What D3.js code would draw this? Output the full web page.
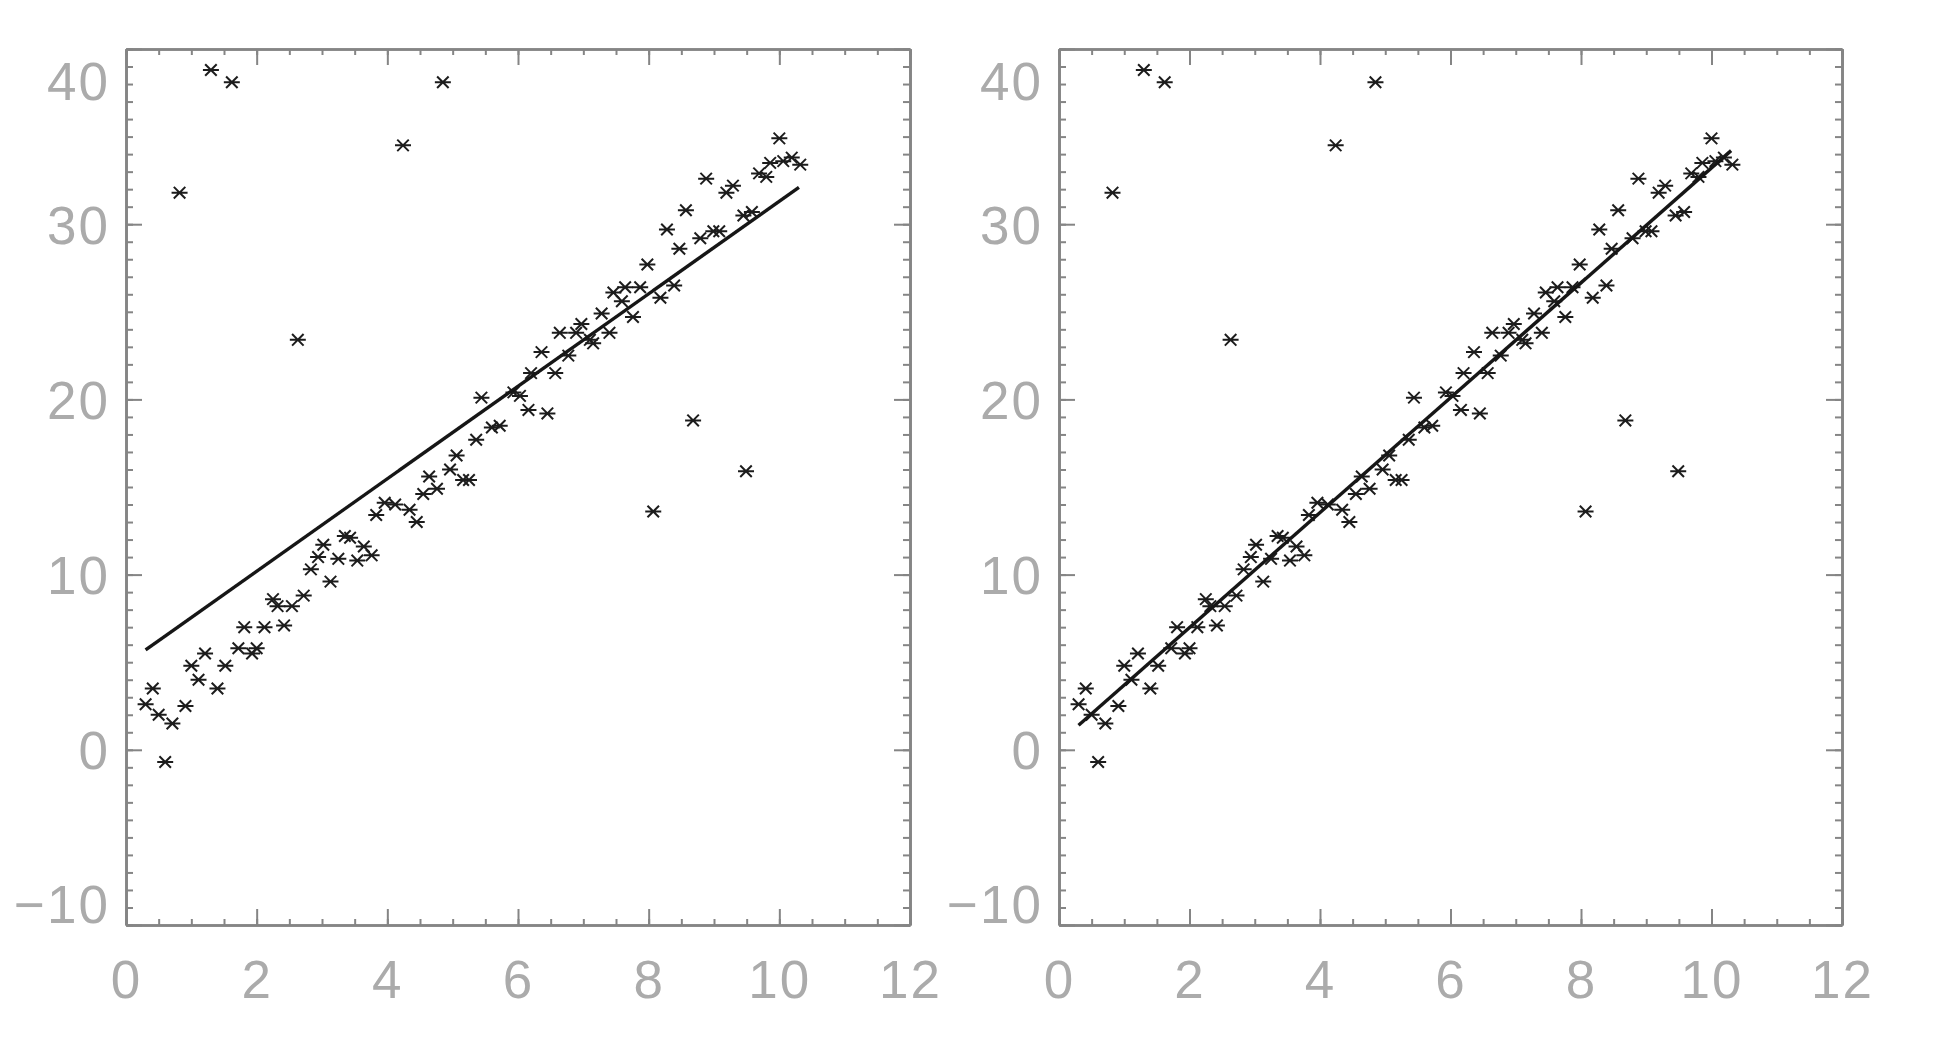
<!DOCTYPE html>
<html><head><meta charset="utf-8">
<script src="https://cdn.jsdelivr.net/npm/d3@7"></script>
<style>html,body{margin:0;padding:0;background:#fff;} svg{display:block}</style>
</head><body><svg id="c" width="1942" height="1038"></svg>
<script>
// ---- data ----
const xValues = [0.30,0.41,0.50,0.60,0.71,0.82,0.91,1.00,1.11,1.21,1.30,1.40,1.52,1.62,1.72,1.81,1.93,2.00,2.12,2.25,2.32,2.42,2.54,2.63,2.72,2.83,2.94,3.02,3.13,3.25,3.35,3.43,3.54,3.64,3.76,3.83,3.96,4.12,4.24,4.34,4.45,4.55,4.64,4.76,4.85,4.96,5.06,5.16,5.25,5.36,5.44,5.60,5.72,5.93,6.03,6.16,6.20,6.36,6.45,6.57,6.64,6.77,6.89,6.97,7.10,7.15,7.28,7.40,7.46,7.59,7.64,7.76,7.87,7.98,8.07,8.18,8.28,8.39,8.47,8.57,8.68,8.79,8.88,8.99,9.08,9.19,9.29,9.45,9.49,9.58,9.69,9.80,9.86,10.00,10.06,10.19,10.32];
const yValues = [2.6,3.5,2.0,-0.7,1.5,31.8,2.5,4.8,4.0,5.5,38.8,3.5,4.8,38.1,5.8,7.0,5.5,5.8,7.0,8.6,8.2,7.1,8.2,23.4,8.8,10.3,11.0,11.7,9.6,10.9,12.2,12.1,10.8,11.6,11.1,13.4,14.1,14.0,34.5,13.7,13.0,14.6,15.6,14.9,38.1,16.0,16.8,15.4,15.4,17.7,20.1,18.4,18.5,20.4,20.2,19.4,21.5,22.7,19.2,21.5,23.8,22.5,23.8,24.3,23.4,23.2,24.9,23.8,26.1,25.6,26.4,24.7,26.4,27.7,13.6,25.8,29.7,26.5,28.6,30.8,18.8,29.2,32.6,29.6,29.6,31.8,32.2,30.5,15.9,30.7,32.9,32.7,33.5,34.9,33.6,33.8,33.4];
const fitLeftX = [0.3, 10.3];
const fitLeftY = [5.7, 32.1];
const fitRightX = [0.3, 10.3];
const fitRightY = [1.4, 34.2];
const xTickValues = [0, 2, 4, 6, 8, 10, 12];
const yTickValues = [-10, 0, 10, 20, 30, 40];
const xDomain = [0, 12];
const yDomain = [-10, 40];

// ---- layout ----
const svg = d3.select("#c");
const TOP = 49, BOTTOM = 925;
const panels = [
  {left: 126, right: 910, fx: fitLeftX, fy: fitLeftY},
  {left: 1059, right: 1842, fx: fitRightX, fy: fitRightY}
];
const axisColor = "#858585";
const labelColor = "#ababab";
const xMinor = d3.range(xDomain[0], xDomain[1] + 1e-9, 0.5);
const yMinor = d3.range(yDomain[0], yDomain[1] + 1e-9, 1);

const defs = svg.append("defs");
defs.append("filter").attr("id", "soft").attr("x", "-5%").attr("y", "-5%").attr("width", "110%").attr("height", "110%")
  .append("feGaussianBlur").attr("stdDeviation", 0.7);

function starPath(r) {
  const d = r * 0.72;
  return `M${-r},0L${r},0M${-d},${-d}L${d},${d}M${-d},${d}L${d},${-d}`;
}

panels.forEach(p => {
  const x = d3.scaleLinear().domain(xDomain).range([p.left, p.right]);
  const y = d3.scaleLinear().domain(yDomain).range([BOTTOM, TOP]);
  const g = svg.append("g").attr("filter", "url(#soft)");

  function styleAxis(sel, keepText) {
    sel.select(".domain").attr("stroke", axisColor).attr("stroke-width", 2.6);
    sel.selectAll(".tick line").attr("stroke", axisColor).attr("stroke-width", 2);
    if (!keepText) sel.selectAll(".tick text").remove();
    else sel.selectAll(".tick text").attr("fill", labelColor)
      .attr("font-family", "'Liberation Sans', Arial, sans-serif").attr("font-size", 53)
      .attr("letter-spacing", 2);
  }

  // minor ticks
  g.append("g").attr("transform", `translate(0,${BOTTOM})`)
    .call(d3.axisBottom(x).tickValues(xMinor).tickSize(-6).tickSizeOuter(0).tickFormat(""))
    .call(s => styleAxis(s, false));
  g.append("g").attr("transform", `translate(0,${TOP})`)
    .call(d3.axisTop(x).tickValues(xMinor).tickSize(-6).tickSizeOuter(0).tickFormat(""))
    .call(s => styleAxis(s, false));
  g.append("g").attr("transform", `translate(${p.left},0)`)
    .call(d3.axisLeft(y).tickValues(yMinor).tickSize(-7).tickSizeOuter(0).tickFormat(""))
    .call(s => styleAxis(s, false));
  g.append("g").attr("transform", `translate(${p.right},0)`)
    .call(d3.axisRight(y).tickValues(yMinor).tickSize(-7).tickSizeOuter(0).tickFormat(""))
    .call(s => styleAxis(s, false));

  // major ticks + labels
  g.append("g").attr("transform", `translate(0,${BOTTOM})`)
    .call(d3.axisBottom(x).tickValues(xTickValues).tickSize(-16).tickSizeOuter(0).tickPadding(35).tickFormat(d3.format("d")))
    .call(s => styleAxis(s, true));
  g.append("g").attr("transform", `translate(0,${TOP})`)
    .call(d3.axisTop(x).tickValues(xTickValues).tickSize(-16).tickSizeOuter(0))
    .call(s => styleAxis(s, false));
  const yl = g.append("g").attr("transform", `translate(${p.left},0)`)
    .call(d3.axisLeft(y).tickValues(yTickValues).tickSize(-16).tickSizeOuter(0).tickPadding(16)
      .tickFormat(d => d < 0 ? "\u2212" + Math.abs(d) : String(d)))
    .call(s => styleAxis(s, true));
  yl.selectAll(".tick text").attr("dy", d => d === yDomain[1] ? "0.95em" : (d === yDomain[0] ? "-0.05em" : "0.36em"));
  g.append("g").attr("transform", `translate(${p.right},0)`)
    .call(d3.axisRight(y).tickValues(yTickValues).tickSize(-16).tickSizeOuter(0))
    .call(s => styleAxis(s, false));

  // scatter (asterisks)
  g.append("g").selectAll("path").data(xValues.map((v, i) => [v, yValues[i]])).join("path")
    .attr("transform", d => `translate(${x(d[0])},${y(d[1])})`)
    .attr("d", starPath(8))
    .attr("fill", "none").attr("stroke", "#1e1e1e").attr("stroke-width", 2);

  // fit line
  g.append("path").datum(p.fx.map((v, i) => [v, p.fy[i]]))
    .attr("d", d3.line().x(d => x(d[0])).y(d => y(d[1])))
    .attr("fill", "none").attr("stroke", "#151515").attr("stroke-width", 3.4);
});
</script>
</body></html>
